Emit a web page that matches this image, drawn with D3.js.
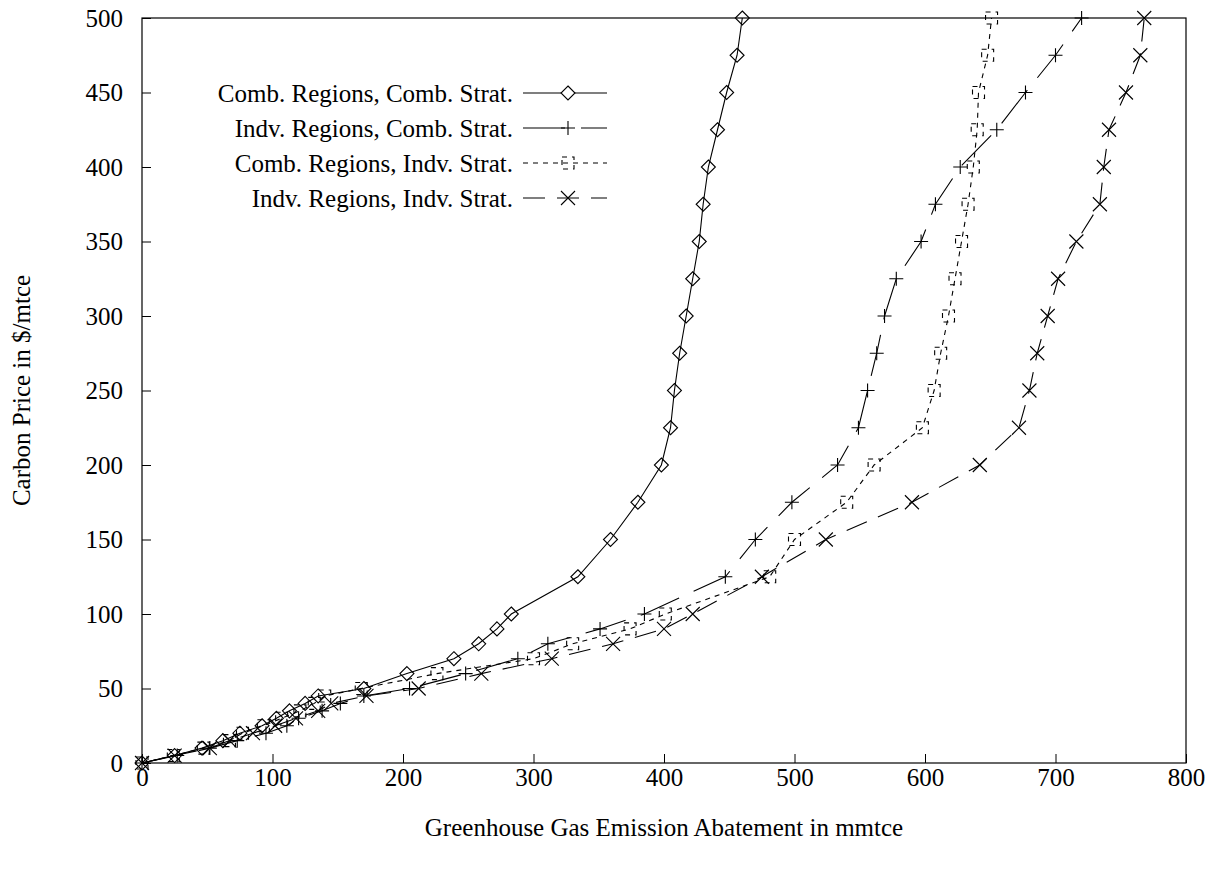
<!DOCTYPE html>
<html><head><meta charset="utf-8">
<script src="https://cdn.jsdelivr.net/npm/d3@7"></script>
<style>
body{margin:0;background:#fff;}
svg text{font-family:'Liberation Serif','Times New Roman','DejaVu Serif',serif !important;fill:#000;}
</style></head>
<body><svg id="c" width="1216" height="869"></svg>
<script>
const prices = [0,5,10,15,20,25,30,35,40,45,50,60,70,80,90,100,125,150,175,200,225,250,275,300,325,350,375,400,425,450,475,500];
const seriesNames = ["Comb. Regions, Comb. Strat.","Indv. Regions, Comb. Strat.","Comb. Regions, Indv. Strat.","Indv. Regions, Indv. Strat."];
const combRegCombStrat = [0,25,46,62,75,92,103,113,125,135,170,203,239,258,272,283,334,359,380,398,405,408,412,417,422,427,430,434,441,448,456,460];
const indvRegCombStrat = [0,27,52,73,95,111,120,138,152,170,205,248,288,311,351,385,447,470,498,533,549,556,563,569,578,597,608,627,655,677,700,720];
const combRegIndvStrat = [0,24,47,67,77,93,107,121,132,140,168,226,300,330,374,401,481,500,540,561,598,607,612,618,623,628,633,637,640,641,648,651];
const indvRegIndvStrat = [0,25,52,67,85,102,118,135,145,172,212,260,314,361,400,422,475,524,590,642,672,680,686,694,702,716,734,737,741,754,765,768];
const xTicks = [0,100,200,300,400,500,600,700,800];
const yTicks = [0,50,100,150,200,250,300,350,400,450,500];

const FONT = "'Liberation Serif','Times New Roman','DejaVu Serif',serif";
const svg = d3.select("#c");
const L=142, R=1186, T=18, B=763;
const x = d3.scaleLinear().domain([0,800]).range([L,R]);
const y = d3.scaleLinear().domain([0,500]).range([B,T]);
const fs = 25;

const styles = [
  {vals:combRegCombStrat, dash:null, marker:"diamond"},
  {vals:indvRegCombStrat, dash:"42,16", marker:"plus"},
  {vals:combRegIndvStrat, dash:"5,5", marker:"square"},
  {vals:indvRegIndvStrat, dash:"22,12", marker:"cross"}
];

function markerPath(type){
  if(type==="diamond"){const h=7;return `M0,${-h}L${h},0L0,${h}L${-h},0Z`;}
  if(type==="plus"){const h=7;return `M${-h},0H${h}M0,${-h}V${h}`;}
  if(type==="square"){const h=6;return `M${-h},${-h}H${h}V${h}H${-h}Z`;}
  const h=7;return `M${-h},${-h}L${h},${h}M${-h},${h}L${h},${-h}`;
}

const xAxis = d3.axisBottom(x).tickValues(xTicks).tickSize(-9).tickPadding(5).tickFormat(d3.format("d"));
const yAxis = d3.axisLeft(y).tickValues(yTicks).tickSize(-9).tickPadding(19).tickFormat(d3.format("d"));
const gx = svg.append("g").attr("transform",`translate(0,${B})`).call(xAxis);
const gy = svg.append("g").attr("transform",`translate(${L},0)`).call(yAxis);
[gx,gy].forEach(g=>{
  g.attr("font-family",null).attr("font-size",null);
  g.select(".domain").remove();
  g.selectAll("line").attr("stroke","#000").attr("stroke-width",1);
  g.selectAll("text").attr("font-size",fs).style("font-family",FONT);
});
gx.selectAll("text").attr("dy","0.71em");
svg.append("rect").attr("x",L).attr("y",T).attr("width",R-L).attr("height",B-T)
  .attr("fill","none").attr("stroke","#000").attr("stroke-width",1.2);

svg.append("text").attr("x",(L+R)/2).attr("y",836).attr("text-anchor","middle").attr("font-size",fs)
  .style("font-family",FONT).text("Greenhouse Gas Emission Abatement in mmtce");
svg.append("text").attr("transform",`translate(30,${(T+B)/2}) rotate(-90)`).attr("text-anchor","middle").attr("font-size",fs)
  .style("font-family",FONT).text("Carbon Price in $/mtce");

const line = d3.line().x(d=>x(d[0])).y(d=>y(d[1]));
styles.forEach(s=>{
  const pts = prices.map((p,i)=>[s.vals[i],p]);
  svg.append("path").datum(pts).attr("d",line).attr("fill","none").attr("stroke","#000")
    .attr("stroke-width",1.1).attr("stroke-dasharray",s.dash);
  svg.append("g").selectAll("path").data(pts).join("path")
    .attr("transform",d=>`translate(${x(d[0])},${y(d[1])})`)
    .attr("d",markerPath(s.marker)).attr("fill","none").attr("stroke","#000").attr("stroke-width",1.1)
    .attr("stroke-dasharray",s.marker==="square"?s.dash:null);
});

const legY = [93,128,163,198];
seriesNames.forEach((n,i)=>{
  const s = styles[i], yy = legY[i];
  svg.append("text").attr("x",513).attr("y",yy).attr("dy","0.35em").attr("text-anchor","end").attr("font-size",fs)
    .style("font-family",FONT).text(n);
  svg.append("line").attr("x1",523).attr("x2",607).attr("y1",yy).attr("y2",yy)
    .attr("stroke","#000").attr("stroke-width",1.1).attr("stroke-dasharray",s.dash);
  svg.append("path").attr("transform",`translate(568,${yy})`).attr("d",markerPath(s.marker))
    .attr("fill",s.marker==="diamond"?"#fff":"none").attr("stroke","#000").attr("stroke-width",1.1)
    .attr("stroke-dasharray",s.marker==="square"?s.dash:null);
});
</script></body></html>
